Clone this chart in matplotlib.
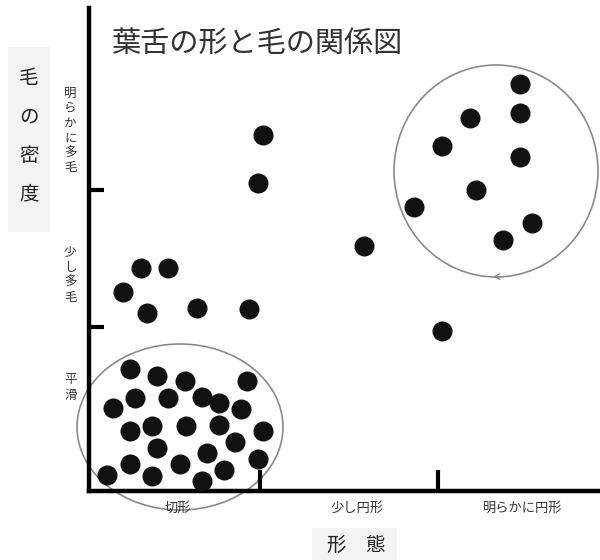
import matplotlib.pyplot as plt
from matplotlib.patches import Ellipse, Rectangle

plt.rcParams['font.family'] = ['Noto Sans CJK JP', 'DejaVu Sans']

# point positions (units: distance from axes origin)
smooth_x = [41, 68, 96, 158, 46, 79, 113, 130, 152, 24, 41, 63, 97, 130, 174,
            68, 146, 118, 169, 91, 41, 135, 18, 63, 113]
smooth_y = [122, 115, 110, 110, 93, 93, 94, 88, 82, 83, 60, 65, 65, 66, 60,
            43, 49, 38, 32, 27, 27, 21, 16, 15, 10]
mid_x = [34, 58, 108, 160, 52, 79, 174, 169, 275, 353]
mid_y = [199, 178, 183, 182, 223, 223, 356, 308, 245, 160]
hairy_x = [431, 431, 381, 353, 431, 387, 325, 443, 414]
hairy_y = [407, 378, 373, 345, 334, 301, 284, 268, 251]

x_cats = ['切形', '少し円形', '明らかに円形']
x_cat_pos = [89, 268, 434]
y_cats = ['平滑', '少し多毛', '明らかに多毛']
y_cat_pos = [106, 219, 363]
x_ticks = [171, 349]
y_ticks = [164, 301]

fig = plt.figure(figsize=(6, 5.6), dpi=100)
ax = fig.add_axes([89 / 600, 69 / 560, 511 / 600, 483 / 560])
ax.set_xlim(0, 511)
ax.set_ylim(0, 483)

for xs, ys in [(smooth_x, smooth_y), (mid_x, mid_y), (hairy_x, hairy_y)]:
    ax.scatter(xs, ys, s=180, color='#111111', zorder=3, clip_on=False)

# group outlines
ax.add_patch(Ellipse((91, 64), 206, 166, fill=False, edgecolor='#8a8a8a',
                     lw=1.2, clip_on=False))
ax.add_patch(Ellipse((407, 320), 204, 212, fill=False, edgecolor='#8a8a8a',
                     lw=1.2, clip_on=False))
ax.annotate('', xy=(401, 214), xytext=(412, 214.5),
            arrowprops=dict(arrowstyle='->', color='#8a8a8a', lw=1))

# axes
for s in ['top', 'right']:
    ax.spines[s].set_visible(False)
for s in ['left', 'bottom']:
    ax.spines[s].set_linewidth(3.2)
    ax.spines[s].set_color('black')
    ax.spines[s].set_capstyle('projecting')

ax.set_xticks(x_ticks, labels=[])
ax.set_yticks(y_ticks, labels=[])
ax.tick_params(axis='x', which='major', direction='in', length=15, width=3)
ax.tick_params(axis='y', which='major', direction='in', length=11, width=3)

ax.set_xticks(x_cat_pos, labels=x_cats, minor=True)
ax.set_yticks(y_cat_pos, labels=['\n'.join(c) for c in y_cats], minor=True)
ax.tick_params(which='minor', length=0, labelcolor='#333333')
ax.tick_params(axis='x', which='minor', pad=8, labelsize=9.5)
ax.tick_params(axis='y', which='minor', pad=9, labelsize=9)
for lab in ax.get_yticklabels(minor=True):
    lab.set_linespacing(1.2)

# title
fig.text(257 / 600, 1 - 45 / 560, '葉舌の形と毛の関係図', fontsize=21,
         color='#333333', ha='center', va='center')

# axis titles with light boxes
fig.add_artist(Rectangle((8 / 600, 1 - 232 / 560), 42 / 600, 185 / 560,
                         transform=fig.transFigure, facecolor='#f3f3f3',
                         edgecolor='none', zorder=0))
fig.text(29 / 600, 1 - 136 / 560, '毛\nの\n密\n度', fontsize=14,
         color='#222222', ha='center', va='center', linespacing=2.1)
fig.add_artist(Rectangle((312 / 600, 0), 85 / 600, 32 / 560,
                         transform=fig.transFigure, facecolor='#f3f3f3',
                         edgecolor='none', zorder=0))
fig.text(356 / 600, 1 - 545 / 560, '形\u3000態', fontsize=14, color='#222222',
         ha='center', va='center')

fig.savefig('out.png', dpi=100)
